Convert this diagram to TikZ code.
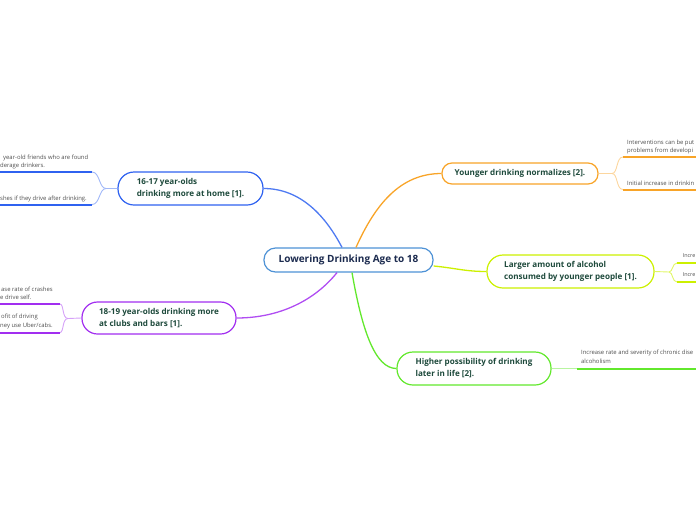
\documentclass[tikz,border=0pt]{standalone}
\usepackage{fontspec}
\setmainfont{Open Sans}
\definecolor{cblue}{HTML}{2F62F0}
\definecolor{cpurple}{HTML}{A22EF0}
\definecolor{corange}{HTML}{F8A428}
\definecolor{cyellow}{HTML}{CCF000}
\definecolor{cgreen}{HTML}{62E82C}
\definecolor{ccenter}{HTML}{4E92D6}
\definecolor{nodetext}{HTML}{1E4A3C}
\definecolor{centertext}{HTML}{1C2B4F}
\definecolor{subtext}{HTML}{505050}
\tikzset{
  topic/.style={draw, fill=white, line width=1.2pt, inner sep=0pt, align=left,
    text=nodetext, font=\fontsize{8.1}{12}\selectfont\bfseries},
  sub/.style={inner sep=0pt, text=subtext, font=\fontsize{5.9}{8}\selectfont},
  conn/.style={line width=1.3pt},
  fork/.style={line width=0.9pt},
  bar/.style={line width=2pt}
}
\begin{document}
\begin{tikzpicture}[x=1pt,y=-1pt]
\useasboundingbox (0,0) rectangle (696,520);
% central node
\node[draw=ccenter, fill=white, line width=1.2pt, rounded corners=11.5pt,
  minimum width=169pt, minimum height=24pt, inner sep=0pt, text=centertext,
  font=\fontsize{10}{12}\selectfont\bfseries] (c) at (348.5,260) {Lowering Drinking Age to 18};
% main topics
\node[topic, draw=cblue, rounded corners=16pt, minimum width=145pt, minimum height=33pt] (b1) at (190.5,188.5) {16-17 year-olds\\drinking more at home [1].};
\node[topic, draw=cpurple, rounded corners=15.5pt, minimum width=154pt, minimum height=32pt] (b2) at (159,318) {18-19 year-olds drinking more\\at clubs and bars [1].};
\node[topic, draw=corange, rounded corners=10pt, minimum width=156pt, minimum height=21pt, align=center] (b3) at (520,173.5) {Younger drinking normalizes [2].};
\node[topic, draw=cyellow, rounded corners=16pt, minimum width=167pt, minimum height=33pt] (b4) at (570.5,271.5) {Larger amount of alcohol\\consumed by younger people [1].};
\node[topic, draw=cgreen, rounded corners=16pt, minimum width=154pt, minimum height=33pt] (b5) at (474,368.5) {Higher possibility of drinking\\later in life [2].};
% connectors from centre
\draw[conn, cblue!85] ([xshift=-6.5pt]c.north) .. controls (325,215) and (300,188.5) .. (b1.east);
\draw[conn, corange] ([xshift=7.5pt]c.north) .. controls (375,205) and (400,173.5) .. (b3.west);
\draw[conn, cpurple!85] ([xshift=-11.5pt]c.south) .. controls (315,300) and (280,318) .. (b2.east);
\draw[conn, cgreen] ([xshift=3.5pt]c.south) .. controls (362,330) and (375,368.5) .. (b5.west);
\draw[conn, cyellow] ([yshift=-6pt]c.east) .. controls (455,268) and (465,271.5) .. (b4.west);
% blue sub branches
\coordinate (f1) at (106,188.5);
\coordinate (l1a) at (92,172); \coordinate (e1a) at (0,172);
\coordinate (l1b) at (92,204.5); \coordinate (e1b) at (0,204.5);
\draw[fork, cblue!45] (b1.west) -- (f1) .. controls (99,188.5) and (100,172) .. (l1a);
\draw[fork, cblue!45] (f1) .. controls (99,188.5) and (100,204.5) .. (l1b);
\draw[bar, cblue] (l1a) -- (e1a);
\draw[bar, cblue] (l1b) -- (e1b);
\node[sub, anchor=base west] (t1a) at (3,159) {year-old friends who are found};
\node[sub, anchor=base west] (t1b) at (0,167) {derage drinkers.};
\node[sub, anchor=base west] (t1c) at (0,200) {shes if they drive after drinking.};
% purple sub branches
\coordinate (f2) at (68,318.5);
\coordinate (l2a) at (60,304); \coordinate (e2a) at (0,304);
\coordinate (l2b) at (60,332.5); \coordinate (e2b) at (0,332.5);
\draw[fork, cpurple!45] (b2.west) -- (f2) .. controls (62,318.5) and (64,304) .. (l2a);
\draw[fork, cpurple!45] (f2) .. controls (62,318.5) and (64,332.5) .. (l2b);
\draw[bar, cpurple] (l2a) -- (e2a);
\draw[bar, cpurple] (l2b) -- (e2b);
\node[sub, anchor=base west] (t2a) at (1,291) {ase rate of crashes};
\node[sub, anchor=base west] (t2b) at (0,299) {e drive self.};
\node[sub, anchor=base west] (t2c) at (1,318.5) {ofit of driving};
\node[sub, anchor=base west] (t2d) at (0,327) {ney use Uber/cabs.};
% orange sub branches
\coordinate (f3) at (612,173.5);
\coordinate (l3a) at (623,157); \coordinate (e3a) at (696,157);
\coordinate (l3b) at (623,189.5); \coordinate (e3b) at (696,189.5);
\draw[fork, corange!45] (b3.east) -- (f3) .. controls (618,173.5) and (616,157) .. (l3a);
\draw[fork, corange!45] (f3) .. controls (618,173.5) and (616,189.5) .. (l3b);
\draw[bar, corange] (l3a) -- (e3a);
\draw[bar, corange] (l3b) -- (e3b);
\node[sub, anchor=base west] (t3a) at (627,144) {Interventions can be put};
\node[sub, anchor=base west] (t3b) at (627,152) {problems from developi};
\node[sub, anchor=base west] (t3c) at (627,185) {Initial increase in drinkin};
% yellow sub branches
\coordinate (f4) at (669,272);
\coordinate (l4a) at (677,263); \coordinate (e4a) at (696,263);
\coordinate (l4b) at (677,282); \coordinate (e4b) at (696,282);
\draw[fork, cyellow!60] (b4.east) -- (f4) .. controls (673,272) and (672,263) .. (l4a);
\draw[fork, cyellow!60] (f4) .. controls (673,272) and (672,282) .. (l4b);
\draw[bar, cyellow] (l4a) -- (e4a);
\draw[bar, cyellow] (l4b) -- (e4b);
\node[sub, anchor=base east, font=\fontsize{5.4}{8}\selectfont] (t4a) at (695.5,257) {Incre};
\node[sub, anchor=base east, font=\fontsize{5.4}{8}\selectfont] (t4b) at (695.5,276.5) {Incre};
% green sub branch
\coordinate (l5) at (577,368.5); \coordinate (e5) at (696,368.5);
\draw[fork, cgreen!45] (b5.east) -- (l5);
\draw[bar, cgreen] (l5) -- (e5);
\node[sub, anchor=base west] (t5a) at (581,354) {Increase rate and severity of chronic dise};
\node[sub, anchor=base west] (t5b) at (581,363) {alcoholism};
\end{tikzpicture}
\end{document}
